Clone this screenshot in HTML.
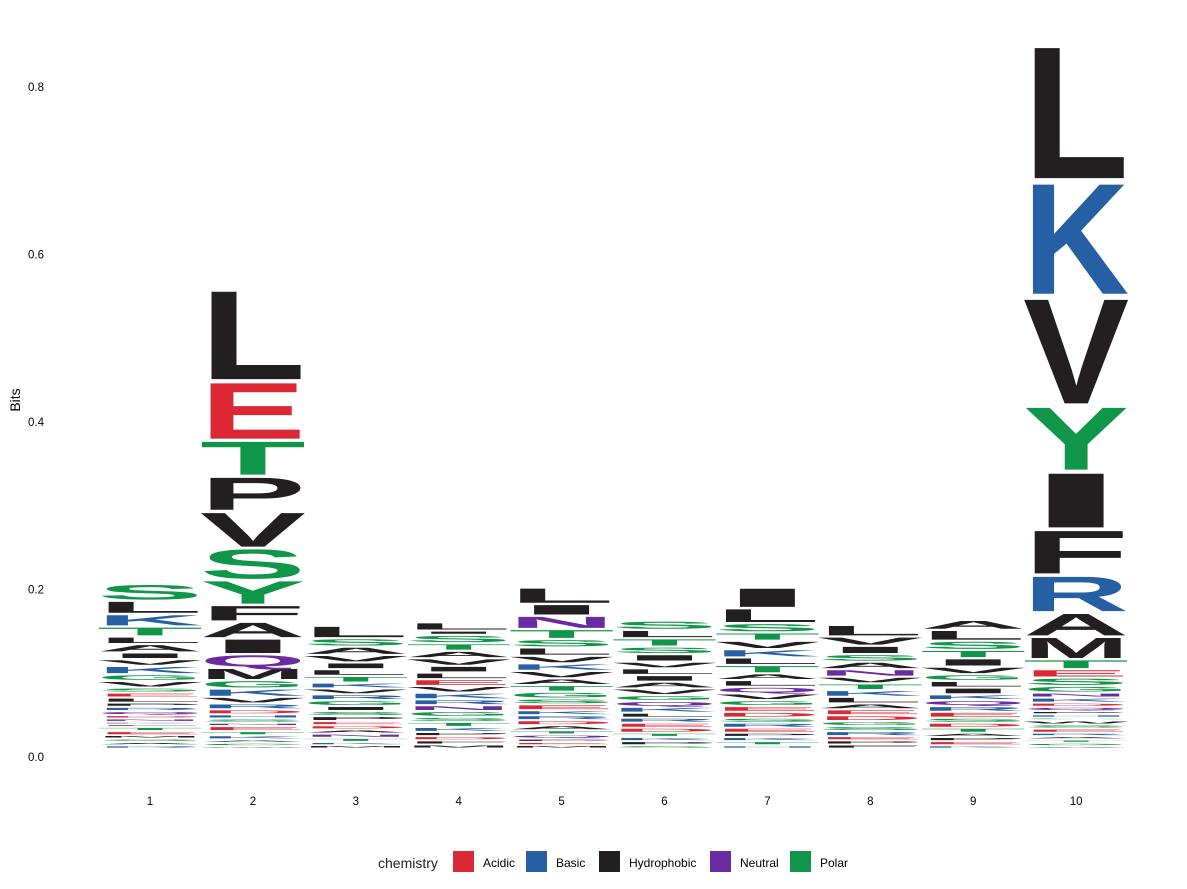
<!DOCTYPE html>
<html><head><meta charset="utf-8"><style>
html,body{margin:0;padding:0;background:#fff;}
svg{display:block;font-family:"Liberation Sans",sans-serif;}
</style></head><body>
<svg id="chart" width="1187" height="889">
<g id="marks"></g>
<g id="axes"></g>
<text x="20" y="400" font-size="14" text-anchor="middle" transform="rotate(-90 20 400)">Bits</text>
<g>
<text x="378" y="868" font-size="14" fill="#222">chemistry</text>
<rect x="453" y="851" width="21" height="21" fill="#DC2834"/>
<text x="483" y="867" font-size="12">Acidic</text>
<rect x="526" y="851" width="21" height="21" fill="#2660A4"/>
<text x="556" y="867" font-size="12">Basic</text>
<rect x="599" y="851" width="21" height="21" fill="#231F20"/>
<text x="629" y="867" font-size="12">Hydrophobic</text>
<rect x="710" y="851" width="21" height="21" fill="#6A2AA0"/>
<text x="740" y="867" font-size="12">Neutral</text>
<rect x="790" y="851" width="21" height="21" fill="#109648"/>
<text x="820" y="867" font-size="12">Polar</text>
</g>
</svg>
<script>
const positions = [1,2,3,4,5,6,7,8,9,10];
const yTicks = [0.0,0.2,0.4,0.6,0.8];
const letters1 = ["S","L","K","T","L","A","I","V","K","G","V","S","E","L","P","R","Q","D","N","K","F","T","E","M","S","A","R"];
const heights1 = [.020,.016,.015,.012,.009,.010,.008,.008,.010,.008,.008,.006,.006,.006,.005,.005,.005,.004,.004,.003,.003,.005,.005,.004,.004,.004,.004];
const letters2 = ["L","E","T","P","V","S","Y","F","A","I","Q","M","G","K","V","R","D","H","S","N","E","T","K","A","C","W"];
const heights2 = [.111,.071,.043,.042,.044,.038,.030,.020,.020,.019,.016,.015,.010,.010,.008,.007,.006,.005,.005,.004,.006,.005,.005,.004,.004,.003];
const letters3 = ["L","S","A","V","I","L","T","K","V","R","G","I","S","P","E","D","A","N","T","K","M"];
const heights3 = [.015,.010,.010,.009,.008,.008,.008,.007,.007,.007,.007,.006,.006,.006,.005,.005,.005,.005,.005,.004,.004];
const letters4 = ["L","I","S","T","A","V","I","L","E","V","K","R","N","G","S","T","K","P","D","F","M"];
const heights4 = [.010,.005,.010,.009,.009,.009,.008,.008,.008,.008,.008,.007,.007,.007,.006,.006,.006,.005,.005,.005,.005];
const letters5 = ["L","I","N","T","S","L","V","K","V","A","T","G","S","E","K","R","D","A","T","Q","P","E","M"];
const heights5 = [.020,.014,.016,.012,.010,.010,.009,.009,.009,.008,.008,.008,.007,.007,.006,.006,.006,.006,.005,.005,.004,.004,.004];
const letters6 = ["S","L","T","S","I","V","L","I","A","V","G","Q","K","L","R","E","D","T","K","P","S"];
const heights6 = [.011,.010,.010,.009,.009,.008,.008,.008,.008,.008,.007,.007,.007,.006,.006,.006,.006,.005,.005,.005,.004];
const letters7 = ["I","L","S","T","V","K","L","T","A","L","Q","V","G","E","D","S","R","E","P","K","T","H"];
const heights7 = [.025,.018,.011,.010,.010,.010,.009,.010,.008,.008,.008,.008,.007,.007,.007,.006,.006,.006,.005,.005,.005,.004];
const letters8 = ["L","V","I","S","A","N","V","T","K","L","A","E","D","G","S","R","E","P","F"];
const heights8 = [.014,.011,.010,.009,.009,.009,.008,.008,.008,.008,.007,.007,.007,.006,.006,.006,.005,.005,.005];
const letters9 = ["A","L","S","T","I","V","G","L","I","K","Q","R","E","S","D","T","A","P","E","K"];
const heights9 = [.012,.013,.011,.010,.010,.009,.008,.008,.008,.007,.007,.007,.007,.006,.006,.006,.005,.005,.005,.004];
const letters10 = ["L","K","V","Y","I","F","R","A","M","T","E","S","G","N","K","D","Q","P","H","C","W","S","E","R","A","T","G","V"];
const heights10 = [.164,.138,.131,.079,.069,.055,.045,.029,.027,.012,.010,.010,.008,.006,.006,.005,.005,.004,.004,.003,.005,.005,.005,.004,.004,.004,.004,.003];
const allLetters = [letters1,letters2,letters3,letters4,letters5,letters6,letters7,letters8,letters9,letters10];
const allHeights = [heights1,heights2,heights3,heights4,heights5,heights6,heights7,heights8,heights9,heights10];

const colorOf = c => "DE".includes(c) ? "#DC2834" : "KRH".includes(c) ? "#2660A4" :
  "QN".includes(c) ? "#6A2AA0" : "GSTYC".includes(c) ? "#109648" : "#231F20";
const y0 = 757, pxPerBit = 837.5, baseBits = 0.01;
const yScale = v => y0 - v * pxPerBit;
const xScale = p => 150 + (p - 1) * 102.9;
const colW = 106;
const NS = "http://www.w3.org/2000/svg";
const marks = document.getElementById("marks");
const axes = document.getElementById("axes");

yTicks.forEach(t => {
  const tx = document.createElementNS(NS, "text");
  tx.setAttribute("x", 44); tx.setAttribute("y", yScale(t) + 4);
  tx.setAttribute("font-size", "11.5"); tx.setAttribute("text-anchor", "end");
  tx.textContent = t.toFixed(1);
  
  
  axes.appendChild(tx);
});
positions.forEach(p => {
  const tx = document.createElementNS(NS, "text");
  tx.setAttribute("x", xScale(p)); tx.setAttribute("y", 805);
  tx.setAttribute("font-size", "11.5"); tx.setAttribute("text-anchor", "middle");
  tx.textContent = p;
  
  
  axes.appendChild(tx);
});

const CAP = 71.6;
positions.forEach((p, i) => {
  const L = allLetters[i], H = allHeights[i];
  let cum = baseBits;
  for (let k = L.length - 1; k >= 0; k--) {
    const bottom = yScale(cum), top = yScale(cum + H[k]);
    cum += H[k];
    const h = bottom - top;
    const gh = Math.max(h - 2, 0.6);
    const t = document.createElementNS(NS, "text");
    t.setAttribute("x", 0); t.setAttribute("y", 0);
    t.setAttribute("font-size", "100"); t.setAttribute("font-weight", "bold");
    t.setAttribute("textLength", colW); t.setAttribute("lengthAdjust", "spacingAndGlyphs");
    t.setAttribute("fill", colorOf(L[k]));
    t.setAttribute("transform", `translate(${xScale(p) - colW / 2},${bottom - 1}) scale(1,${gh / CAP})`);
    t.textContent = L[k];
    
    
    marks.appendChild(t);
  }
});
</script>
</body></html>
